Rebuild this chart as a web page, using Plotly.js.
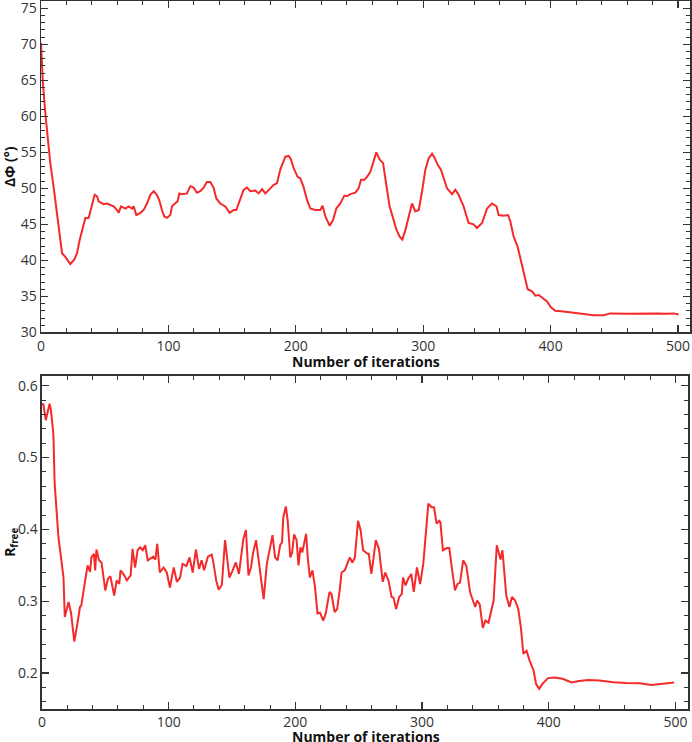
<!DOCTYPE html>
<html>
<head>
<meta charset="utf-8">
<script src="https://cdn.plot.ly/plotly-3.0.1.min.js"></script>
<style>html,body{margin:0;padding:0;background:#fff;}#chart{width:692px;height:742px;}</style>
</head>
<body>
<div id="chart"></div>
<script>
// Top panel: ΔΦ (degrees) vs iteration
const iterTop = [0,1.5,3.4,7.3,9.9,12.5,16.5,19.1,21.7,23,26.1,28.3,30.3,33,34.8,37.4,40,42.1,44,45.2,49.1,51.7,57,59.7,60.9,62.8,66.2,68.8,71.4,72.7,74.8,78,80.6,83.2,85.8,88.4,91,93.1,94.9,96.8,98.9,101.5,102.8,105.4,107.2,108.6,110.7,114.6,117.2,119.8,122.4,125,127.6,130.2,132.9,135.5,137.6,140.7,144.6,148.1,151.2,153.3,156.4,159,161.7,164.3,168.2,170.8,173.5,176.1,180,182.6,185.2,187.8,191.8,194.4,196.2,198.3,201.4,203.5,206.1,208.8,211.4,215.3,219.2,221,223.2,226.6,229.2,231.8,234.9,238.1,240.2,242.8,246.7,249.3,251.2,253.9,255.9,258.5,260.6,263.2,265.8,268.5,271,273.6,276.3,278.9,281.5,283.6,286,288.6,291.2,293.8,296.5,299.1,301.7,304.3,307,309.1,311.3,313.9,316.6,318.7,322.6,325.2,327.8,331.7,335.6,339.5,342.2,346.2,350.1,354,357.5,359.2,363.2,366.6,368.4,371,374.1,377.6,382,385.4,388,390.7,394.5,397.2,400.3,403.7,410.2,418,425.9,433.8,441.6,446.8,459.9,470.3,483.4,491.3,496.5,500.5];
const dphi = [70.2,64.6,60.4,53.5,50.2,46.6,41.0,40.5,39.8,39.5,40.1,41.0,42.8,44.7,45.9,45.9,47.5,49.1,48.9,48.2,47.8,47.9,47.5,47.0,46.6,47.5,47.2,47.5,47.2,47.5,46.3,46.6,47.0,47.9,49.1,49.6,49.1,48.2,47.0,46.1,45.9,46.3,47.5,48.0,48.2,49.3,49.2,49.3,50.3,50.1,49.4,49.6,50.1,50.9,50.9,50.1,48.6,47.9,47.5,46.6,47.0,47.0,48.4,49.8,50.1,49.6,49.7,49.3,49.9,49.3,50.0,50.5,50.7,52.6,54.4,54.5,54.0,52.8,51.6,51.4,50.2,48.4,47.2,47.0,47.0,47.6,46.1,44.8,45.6,47.2,47.9,49.0,48.9,49.2,49.4,50.0,51.2,51.2,51.6,52.3,53.5,55.0,54.0,53.5,50.5,47.5,45.9,44.3,43.3,42.9,44.2,46.1,47.9,46.8,47.0,49.6,52.6,54.2,54.8,54.2,53.3,52.6,51.2,50.0,49.2,49.8,49.1,47.5,45.2,45.0,44.5,45.2,47.2,47.9,47.5,46.3,46.2,46.3,45.4,43.3,41.9,39.1,36.0,35.7,35.1,35.2,34.7,34.3,33.5,33.0,32.9,32.75,32.6,32.4,32.4,32.65,32.6,32.65,32.65,32.6,32.65,32.5];

// Bottom panel: R_free vs iteration
const iterBottom = [0,1,3,4,6,7,9,10,11,13,15,17,18,21,23,25.5,28,30,31,33,35,36,38,39,41,42,43,45,47,50,52,54,57,59,61,62,65,67,70,71.5,73.5,75.5,77.5,79.5,81.5,83.5,88,89.5,91,93,96,98.5,101,104,106.5,109,111,114,116.5,119,121.5,124,126,128,131,134,135.5,137.5,139.5,142,144.5,148,150.5,153,155.5,159,161,163,165,166.5,169,171,175,177.5,179.5,182,184,186,188,189.5,190.5,192.5,194,196,197.5,199,201,202.5,204,205.5,207,208.5,210,211.5,213.5,215.5,217.5,219.5,222,224,227,228.5,231,233,235,236.5,239,241,243,245,247,249.5,251.5,253.5,257,258,260,261.5,263.5,266,269,271,273.5,276,277.5,279.5,282,284,285,287,289,291.5,293.5,296,298.5,301,303,305,307.5,309.5,311.5,313.5,314.5,316.5,319.5,321.5,323.5,326,328,330,332.5,335,338,340.5,342,343.5,345.5,348,350,352.5,355,356.5,359,360.5,362,363.5,365,366.5,369,371,373.5,376,378,380,382.5,385,388,390,392.5,395,399.5,405,411,418,424,431,440,451,461,472,481,490,499];
const rfree = [0.573,0.575,0.552,0.559,0.575,0.567,0.533,0.464,0.440,0.389,0.361,0.333,0.278,0.299,0.283,0.244,0.269,0.292,0.294,0.315,0.338,0.350,0.341,0.361,0.366,0.343,0.372,0.357,0.354,0.315,0.331,0.335,0.308,0.329,0.324,0.343,0.336,0.329,0.336,0.373,0.347,0.371,0.375,0.371,0.378,0.357,0.362,0.358,0.380,0.340,0.347,0.340,0.319,0.347,0.327,0.333,0.352,0.349,0.361,0.340,0.372,0.345,0.357,0.343,0.362,0.365,0.352,0.329,0.316,0.323,0.385,0.333,0.343,0.354,0.338,0.387,0.399,0.336,0.347,0.366,0.385,0.357,0.303,0.352,0.368,0.392,0.361,0.357,0.378,0.382,0.417,0.432,0.412,0.361,0.368,0.393,0.385,0.350,0.375,0.368,0.381,0.394,0.357,0.333,0.343,0.320,0.283,0.284,0.273,0.283,0.313,0.310,0.285,0.289,0.315,0.340,0.343,0.352,0.361,0.354,0.361,0.412,0.399,0.371,0.366,0.366,0.338,0.357,0.385,0.373,0.327,0.340,0.329,0.306,0.305,0.289,0.306,0.310,0.333,0.322,0.331,0.338,0.313,0.347,0.324,0.352,0.392,0.436,0.431,0.431,0.408,0.412,0.410,0.371,0.374,0.374,0.347,0.315,0.324,0.326,0.357,0.349,0.312,0.301,0.292,0.301,0.296,0.263,0.273,0.270,0.287,0.301,0.378,0.366,0.358,0.371,0.343,0.308,0.292,0.306,0.301,0.289,0.264,0.227,0.231,0.217,0.204,0.185,0.178,0.185,0.193,0.194,0.192,0.187,0.189,0.1905,0.1896,0.1872,0.1863,0.1858,0.1835,0.1849,0.1868];

const xTitle = 'Number of iterations';
const yTitleTop = 'ΔΦ (°)';
const yTitleBottom = 'R<sub>free</sub>';

const lineStyle = {color: '#f42a2a', width: 2};
const traces = [
  {x: iterTop, y: dphi, type: 'scatter', mode: 'lines', line: lineStyle, xaxis: 'x', yaxis: 'y', hoverinfo: 'skip'},
  {x: iterBottom, y: rfree, type: 'scatter', mode: 'lines', line: lineStyle, xaxis: 'x2', yaxis: 'y2', hoverinfo: 'skip'}
];

const tickFont = {family: 'Open Sans, sans-serif', size: 14, color: '#333'};
const titleFont = {family: 'Open Sans, sans-serif', size: 14, color: '#111', weight: 'bold'};
const axBase = {
  showline: true, linecolor: '#333', linewidth: 1.5, mirror: 'allticks',
  ticks: 'inside', ticklen: 7, tickwidth: 1.2, tickcolor: '#333',
  showgrid: false, zeroline: false, tickfont: tickFont, fixedrange: true,
  ticklabeloverflow: 'allow'
};

const layout = {
  width: 692, height: 742,
  margin: {l: 41, r: 2, t: 1, b: 33},
  paper_bgcolor: '#fff', plot_bgcolor: '#fff',
  showlegend: false,
  xaxis: Object.assign({}, axBase, {
    domain: [0, 1], range: [0, 509.4], anchor: 'y', dtick: 100, tick0: 0,
    minor: {dtick: 20, ticks: 'inside', ticklen: 4, tickcolor: '#333', tickwidth: 1}
  }),
  yaxis: Object.assign({}, axBase, {
    domain: [0.5318, 1], range: [30, 76], anchor: 'x', dtick: 5, tick0: 30,
    minor: {dtick: 1, ticks: 'inside', ticklen: 4, tickcolor: '#333', tickwidth: 1},
    title: {text: yTitleTop, font: titleFont, standoff: 4}
  }),
  xaxis2: Object.assign({}, axBase, {
    domain: [0.0015, 0.997], range: [0, 510], anchor: 'y2', dtick: 100, tick0: 0,
    minor: {dtick: 20, ticks: 'inside', ticklen: 4, tickcolor: '#333', tickwidth: 1}
  }),
  yaxis2: Object.assign({}, axBase, {
    domain: [0, 0.4708], range: [0.15, 0.614], anchor: 'x2', dtick: 0.1, tick0: 0.2,
    minor: {dtick: 0.02, ticks: 'inside', ticklen: 4, tickcolor: '#333', tickwidth: 1},
    title: {text: yTitleBottom, font: titleFont, standoff: 4}
  }),
  annotations: [
    {text: xTitle, xref: 'paper', yref: 'paper', x: 0.501, y: 0.4905, xanchor: 'center', yanchor: 'middle', showarrow: false, font: titleFont},
    {text: xTitle, xref: 'paper', yref: 'paper', x: 0.501, y: -0.0391, xanchor: 'center', yanchor: 'middle', showarrow: false, font: titleFont}
  ]
};

Plotly.newPlot('chart', traces, layout, {displayModeBar: false, staticPlot: true});
</script>
</body>
</html>
